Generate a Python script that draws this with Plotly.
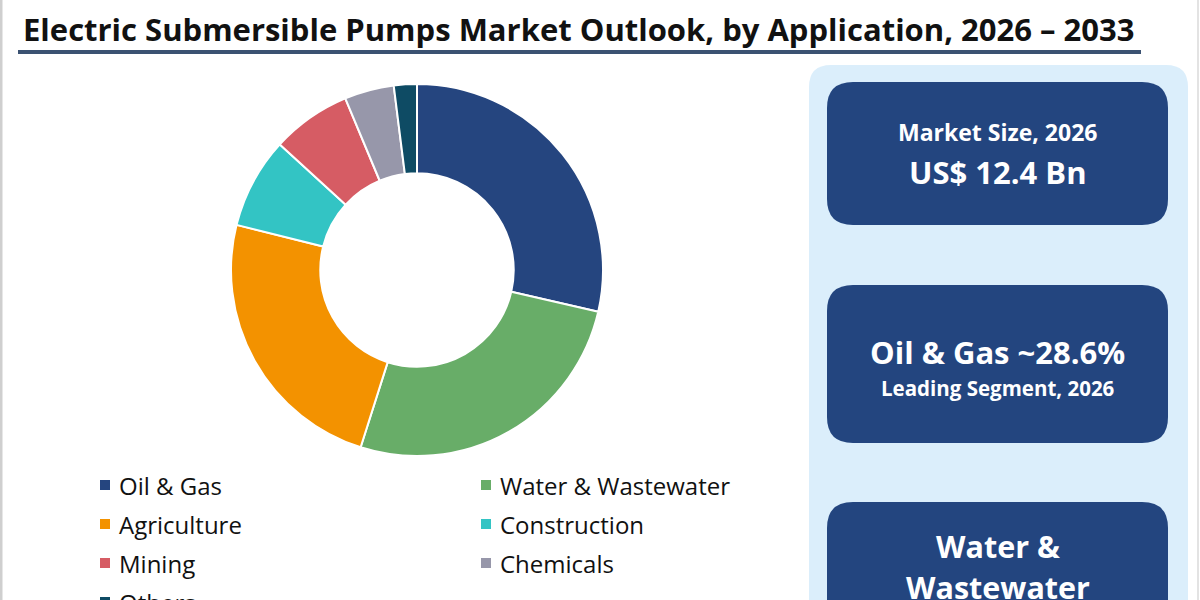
import plotly.graph_objects as go

# ---------------- data ----------------
title_text = "Electric Submersible Pumps Market Outlook, by Application, 2026 – 2033"
segments = ["Oil & Gas", "Water & Wastewater", "Agriculture", "Construction",
            "Mining", "Chemicals", "Others"]
shares = [28.6, 26.3, 24.0, 7.9, 6.9, 4.3, 2.0]
colors = ["#25457f", "#68ad68", "#f39200", "#33c4c4", "#d65c64", "#9797aa", "#0e4b64"]

card_lines = [
    [("Market Size, 2026", 23), ("US$ 12.4 Bn", 31)],
    [("Oil & Gas ~28.6%", 31), ("Leading Segment, 2026", 20.5)],
    [("Water &", 30.5), ("Wastewater", 30.5)],
]

# ---------------- layout constants ----------------
W, H = 1200, 600
FONT = "Open Sans"
cx, cy, R = 417, 270, 186

fig = go.Figure()

# invisible helper trace so the pixel-space axes exist
fig.add_trace(go.Scatter(x=[], y=[], showlegend=False, hoverinfo="skip"))

fig.add_trace(go.Pie(
    labels=segments, values=shares,
    marker=dict(colors=colors, line=dict(color="white", width=2)),
    hole=0.52, sort=False, direction="clockwise", rotation=0,
    textinfo="none", hoverinfo="label+percent", showlegend=False,
    domain=dict(x=[(cx - R) / W, (cx + R) / W],
                y=[(H - cy - R) / H, (H - cy + R) / H]),
))


def rrect(x0, y0, x1, y1, r):
    return (f"M {x0+r},{y0} L {x1-r},{y0} Q {x1},{y0} {x1},{y0+r} "
            f"L {x1},{y1-r} Q {x1},{y1} {x1-r},{y1} L {x0+r},{y1} "
            f"Q {x0},{y1} {x0},{y1-r} L {x0},{y0+r} Q {x0},{y0} {x0+r},{y0} Z")


def py(y):
    return 1 - y / H


shapes = []
annotations = []

# page borders
shapes.append(dict(type="line", xref="x", yref="y", x0=1, x1=1, y0=0, y1=H,
                   line=dict(color="#cfcfcf", width=3)))
shapes.append(dict(type="line", xref="x", yref="y", x0=1198, x1=1198, y0=0, y1=H,
                   line=dict(color="#e3e3e3", width=2)))

# title + underline
annotations.append(dict(xref="x", yref="paper", x=21, y=py(29), xanchor="left", yanchor="middle",
                        text=f"<b>{title_text}</b>", showarrow=False,
                        font=dict(family=FONT, size=31, color="#111111")))
shapes.append(dict(type="line", xref="x", yref="y", x0=18, x1=1141, y0=52, y1=52,
                   line=dict(color="#3b5272", width=4)))

# right panel
shapes.append(dict(type="path", xref="x", yref="y", path=rrect(809, 65, 1188, 640, 22),
                   fillcolor="#dbeefb", line=dict(width=0), layer="below"))
card_tops = [82, 285, 502]
card_bottoms = [225, 443, 660]
text_y = [[132, 172], [352, 388], [546, 587]]
for k in range(3):
    shapes.append(dict(type="path", xref="x", yref="y",
                       path=rrect(827, card_tops[k], 1168, card_bottoms[k], 26),
                       fillcolor="#23457f", line=dict(width=0), layer="below"))
    for (txt, sz), yy in zip(card_lines[k], text_y[k]):
        annotations.append(dict(xref="x", yref="paper", x=997.5, y=py(yy), xanchor="center",
                                yanchor="middle", text=f"<b>{txt}</b>", showarrow=False,
                                font=dict(family=FONT, size=sz, color="white")))

# legend
col_x = [100, 481]
row_y = [485, 524, 563, 602]
for i, (lab, col) in enumerate(zip(segments, colors)):
    x0 = col_x[i % 2]
    y0 = row_y[i // 2]
    shapes.append(dict(type="rect", xref="x", yref="y", x0=x0, x1=x0 + 10,
                       y0=y0 - 5, y1=y0 + 5, fillcolor=col, line=dict(width=0)))
    annotations.append(dict(xref="x", yref="paper", x=x0 + 17, y=py(y0), xanchor="left",
                            yanchor="middle", text=lab, showarrow=False,
                            font=dict(family=FONT, size=24, color="#111111")))

fig.update_layout(
    width=W, height=H,
    margin=dict(l=0, r=0, t=0, b=0),
    paper_bgcolor="white", plot_bgcolor="rgba(0,0,0,0)",
    xaxis=dict(range=[0, W], visible=False, fixedrange=True, domain=[0, 1]),
    yaxis=dict(range=[H, 0], visible=False, fixedrange=True, domain=[0, 1]),
    shapes=shapes, annotations=annotations, showlegend=False,
)

fig.write_html("out.html")
